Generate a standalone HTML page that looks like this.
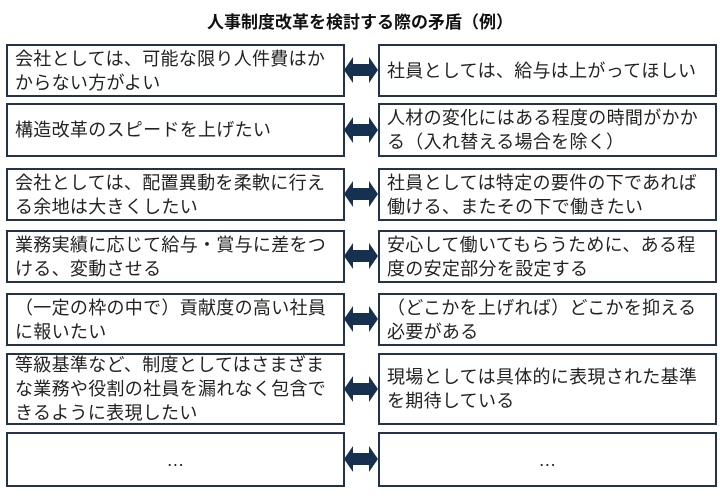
<!DOCTYPE html>
<html><head><meta charset="utf-8"><style>
body{margin:0;width:720px;height:498px;background:#fff;position:relative;font-family:"Liberation Sans","Noto Sans CJK JP",sans-serif;color:#222;overflow:hidden}
.t{position:absolute;left:0;width:720px;top:8px;text-align:center;font-weight:bold;font-size:17px;color:#111}
.b{position:absolute;box-sizing:border-box;border:2px solid #23324d;display:flex;align-items:center;padding-left:7px;font-size:18px;line-height:24px;letter-spacing:0.3px}
.l{left:6px;width:339px}.r{left:378px;width:339px}
.c{justify-content:center;padding-left:0}
svg{position:absolute;left:344px}
</style></head><body>
<div class="t">人事制度改革を検討する際の矛盾（例）</div>

<div class="b l" style="top:44px;height:53px">会社としては、可能な限り人件費はか<br>からない方がよい</div>
<div class="b r" style="top:44px;height:53px">社員としては、給与は上がってほしい</div>

<div class="b l" style="top:103px;height:54px">構造改革のスピードを上げたい</div>
<div class="b r" style="top:103px;height:54px">人材の変化にはある程度の時間がかか<br>る（入れ替える場合を除く）</div>

<div class="b l" style="top:168px;height:53px">会社としては、配置異動を柔軟に行え<br>る余地は大きくしたい</div>
<div class="b r" style="top:168px;height:53px">社員としては特定の要件の下であれば<br>働ける、またその下で働きたい</div>

<div class="b l" style="top:230px;height:53px">業務実績に応じて給与・賞与に差をつ<br>ける、変動させる</div>
<div class="b r" style="top:230px;height:53px">安心して働いてもらうために、ある程<br>度の安定部分を設定する</div>

<div class="b l" style="top:293px;height:53px">（一定の枠の中で）貢献度の高い社員<br>に報いたい</div>
<div class="b r" style="top:293px;height:53px">（どこかを上げれば）どこかを抑える<br>必要がある</div>

<div class="b l" style="top:353px;height:72px">等級基準など、制度としてはさまざま<br>な業務や役割の社員を漏れなく包含で<br>きるように表現したい</div>
<div class="b r" style="top:353px;height:72px">現場としては具体的に表現された基準<br>を期待している</div>

<div class="b l c" style="top:432px;height:55px">…</div>
<div class="b r c" style="top:432px;height:55px">…</div>

<svg width="34" height="498" viewBox="0 0 34 498">
<defs><polygon id="a" points="0,0 9,-13 9,-6 25,-6 25,-13 34,0 25,13 25,6 9,6 9,13" fill="#16304f"/></defs>
<use href="#a" y="70"/><use href="#a" y="130"/><use href="#a" y="194"/><use href="#a" y="256"/><use href="#a" y="319"/><use href="#a" y="389"/><use href="#a" y="459"/>
</svg>
</body></html>
